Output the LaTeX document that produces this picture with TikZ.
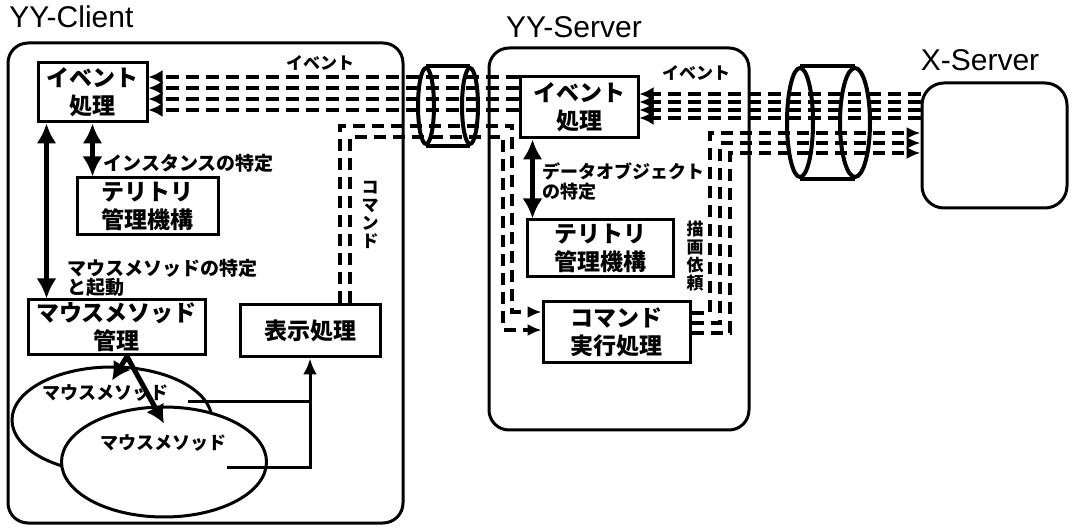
\documentclass[tikz,border=0pt]{standalone}
\usepackage{fontspec}
\setmainfont{Liberation Sans}
\newfontfamily\jp{Noto Sans CJK JP}
\usetikzlibrary{arrows.meta,shapes.geometric}

\begin{document}
\begin{tikzpicture}[x=0.5pt,y=-0.5pt,>=Latex,
frame/.style={draw,line width=1.5pt,rounded corners=10pt},
title/.style={font=\fontsize{15}{18}\selectfont,inner sep=0pt},
box/.style={draw,line width=1.5pt,align=center,inner sep=0pt,font=\jp\bfseries\fontsize{11.5}{14}\selectfont},
mmeth/.style={draw,ellipse,line width=1.5pt,fill=white,inner sep=0pt},
cabend/.style={draw,ellipse,line width=2pt,inner sep=0pt},
cable/.style={line width=2pt},
etext/.style={font=\jp\bfseries\fontsize{9}{9}\selectfont,inner sep=0pt},
lab/.style={font=\jp\bfseries\fontsize{9.5}{9.5}\selectfont,inner sep=0pt,align=left},
vlab/.style={font=\jp\bfseries\fontsize{8.5}{9}\selectfont,inner sep=0pt,align=center},
dbl/.style={{Latex[length=10pt,width=10pt]}-{Latex[length=10pt,width=10pt]},line width=2.5pt},
thk/.style={-{Latex[length=9pt,width=10pt]},line width=2.5pt},
wire/.style={line width=1.5pt},
evline/.style={-{Latex[length=7pt,width=7pt]},line width=2pt,dash pattern=on 6.5pt off 3.5pt},
cmdline/.style={-{Latex[length=7pt,width=6pt]},line width=2pt,dash pattern=on 6pt off 3.5pt}]
\useasboundingbox (0,0) rectangle (1072,529);
\node[title,anchor=west] (tcli) at (9,17) {YY-Client};
\node[title] (tsrv) at (574,27) {YY-Server};
\node[title] (txs) at (980,60) {X-Server};
\node[frame,minimum width=197.5pt,minimum height=240pt] (client) at (205.5,283) {};
\node[frame,minimum width=130pt,minimum height=191pt] (server) at (619,239) {};
\node[frame,rounded corners=11pt,minimum width=72.5pt,minimum height=62.5pt] (xsrv) at (994.5,145.5) {};
\node[cabend,minimum width=8pt,minimum height=38pt] (c1a) at (426,106) {};
\node[cabend,minimum width=8pt,minimum height=38pt] (c1b) at (470,106) {};
\draw[cable] (c1a.north) -- (c1b.north) (c1a.south) -- (c1b.south);
\node[cabend,minimum width=13pt,minimum height=54.5pt] (c2a) at (800,122.5) {};
\node[cabend,minimum width=15pt,minimum height=54.5pt] (c2b) at (855,122.5) {};
\draw[cable] (c2a.north) -- (c2b.north) (c2a.south) -- (c2b.south);
\node[box,minimum width=54.5pt,minimum height=29.5pt] (cev) at (92.5,92.5) {イベント\\処理};
\node[box,minimum width=70.5pt,minimum height=28.5pt] (cter) at (147.5,206.5) {テリトリ\\管理機構};
\node[box,minimum width=88.5pt,minimum height=27.5pt] (mmgr) at (116.5,327.5) {マウスメソッド\\管理};
\node[box,minimum width=70pt,minimum height=26pt] (disp) at (310,331) {表示処理};
\node[mmeth,minimum width=100pt,minimum height=53pt] (mm1) at (112,420) {};
\node[mmeth,minimum width=102.5pt,minimum height=55pt] (mm2) at (164,462) {};
\node[etext] (mm1t) at (105,393) {マウスメソッド};
\node[etext] (mm2t) at (163.5,443) {マウスメソッド};
\node[lab,anchor=west] (linst) at (103,163) {インスタンスの特定};
\node[lab,anchor=north west] (lmm) at (67,259) {マウスメソッドの特定\\と起動};
\node[lab,font=\jp\bfseries\fontsize{8.5}{9}\selectfont] (lev1) at (320,63) {イベント};
\node[vlab] (lcmd) at (370,215) {コ\\マ\\ン\\ド};
\node[box,minimum width=59pt,minimum height=30.5pt] (sev) at (579,107.5) {イベント\\処理};
\node[box,minimum width=73pt,minimum height=28.5pt] (ster) at (600,248.5) {テリトリ\\管理機構};
\node[box,minimum width=73.5pt,minimum height=30.5pt] (cmdx) at (616.5,332.5) {コマンド\\実行処理};
\node[lab,anchor=north west,font=\jp\bfseries\fontsize{9}{10}\selectfont] (ldo) at (542,162) {データオブジェクト\\の特定};
\node[lab,font=\jp\bfseries\fontsize{8.5}{9}\selectfont] (lev2) at (696,73) {イベント};
\node[vlab] (ldraw) at (695,256) {描\\画\\依\\頼};
\coordinate (cmdA) at (512,126);
\coordinate (cmdB) at (503,137);
\coordinate (req1) at (710,133);
\coordinate (req2) at (720,143);
\coordinate (req3) at (730,153);
\draw[dbl] (cev.south) -- (cev.south |- cter.north);
\draw[dbl] ([xshift=5pt]cev.south west) -- ([xshift=5pt]cev.south west |- mmgr.north);
\draw[dbl] ([xshift=7pt]sev.south west) -- ([xshift=7pt]sev.south west |- ster.north);
\draw[thk] ([xshift=5.25pt]mmgr.south) -- ([yshift=-7.5pt]mm1.north);
\draw[thk] ([xshift=5.25pt]mmgr.south) -- ([yshift=-9pt]mm2.north);
\draw[wire] ([xshift=38pt,yshift=9pt]mm1.center) -- ([yshift=9pt]mm1.center -| disp.south);
\draw[wire,-{Latex[length=8pt,width=7pt]}] ([xshift=31.5pt,yshift=-3pt]mm2.center) -| (disp.south);
\draw[evline] ([yshift=7.75pt]cev.east -| sev.west) -- ([yshift=7.75pt]cev.east);
\draw[evline] ([yshift=2.25pt]cev.east -| sev.west) -- ([yshift=2.25pt]cev.east);
\draw[evline] ([yshift=-3.25pt]cev.east -| sev.west) -- ([yshift=-3.25pt]cev.east);
\draw[evline] ([yshift=-8.75pt]cev.east -| sev.west) -- ([yshift=-8.75pt]cev.east);
\draw[evline] ([yshift=6.75pt]sev.east -| xsrv.west) -- ([yshift=6.75pt]sev.east);
\draw[evline] ([yshift=2.75pt]sev.east -| xsrv.west) -- ([yshift=2.75pt]sev.east);
\draw[evline] ([yshift=-1.25pt]sev.east -| xsrv.west) -- ([yshift=-1.25pt]sev.east);
\draw[evline] ([yshift=-5.25pt]sev.east -| xsrv.west) -- ([yshift=-5.25pt]sev.east);
\draw[cmdline] ([xshift=15pt]disp.north) |- (cmdA) |- ([yshift=10.25pt]cmdx.west);
\draw[cmdline] ([xshift=20pt]disp.north) |- (cmdB) |- ([yshift=1.25pt]cmdx.west);
\draw[cmdline] ([yshift=9.75pt]cmdx.east) -| (req1) -- (req1 -| xsrv.west);
\draw[cmdline] ([yshift=4.75pt]cmdx.east) -| (req2) -- (req2 -| xsrv.west);
\draw[cmdline] ([yshift=-0.25pt]cmdx.east) -| (req3) -- (req3 -| xsrv.west);
\end{tikzpicture}
\end{document}
